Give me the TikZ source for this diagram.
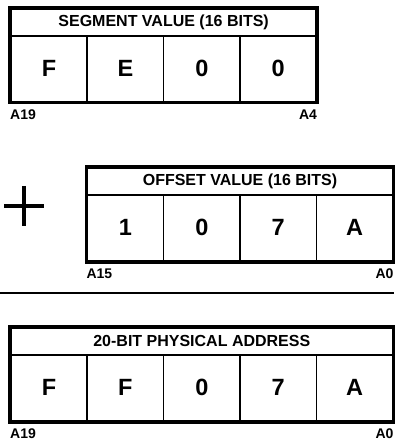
\documentclass[tikz,border=0pt]{standalone}
\usepackage{fontspec}
\setmainfont{Liberation Sans}
\usetikzlibrary{positioning}

\begin{document}
\begin{tikzpicture}[x=1pt, y=-1pt,
  hdr/.style={draw, line width=1.6pt, minimum height=27pt, inner sep=0pt, font=\fontsize{16}{16}\selectfont\bfseries},
  cell/.style={draw, line width=1.6pt, minimum width=76.4pt, minimum height=66pt, inner sep=0pt, font=\fontsize{23.5}{23.5}\selectfont\bfseries},
  frame/.style={line width=3.8pt},
  pin/.style={inner sep=0pt, font=\fontsize{14}{14}\selectfont\bfseries},
  plusbar/.style={line width=4.6pt}
]
\useasboundingbox (0,0) rectangle (394,443);

% Segment value
\node[hdr, minimum width=305.6pt, anchor=north west] (seghead) at (10,8) {SEGMENT VALUE (16 BITS)};
\foreach \v [count=\i] in {F,E,0,0}
  \node[cell, anchor=north west] (seg\i) at ({10+76.4*(\i-1)},35) {\v};
\draw[frame] (seghead.north west) rectangle (seg4.south east);
\node[pin, below right=7pt and 0pt of seg1.south west] (segmsb) {A19};
\node[pin, below left=7pt and 0pt of seg4.south east] (seglsb) {A4};

% Offset value, shifted one digit
\draw[plusbar] (4,206) -- (44,206);
\draw[plusbar] (24,186) -- (24,226);
\node[hdr, minimum width=305.6pt, anchor=north west] (offhead) at (86.4,167) {OFFSET VALUE (16 BITS)};
\foreach \v [count=\i] in {1,0,7,A}
  \node[cell, anchor=north west] (off\i) at ({86.4+76.4*(\i-1)},194) {\v};
\draw[frame] (offhead.north west) rectangle (off4.south east);
\node[pin, below right=7pt and 0pt of off1.south west] (offmsb) {A15};
\node[pin, below left=7pt and 0pt of off4.south east] (offlsb) {A0};

% Sum line
\draw[line width=1.8pt] (0,293) -- (394,293);

% Physical address
\node[hdr, minimum width=382pt, anchor=north west] (physhead) at (10,327) {20-BIT PHYSICAL ADDRESS};
\foreach \v [count=\i] in {F,F,0,7,A}
  \node[cell, anchor=north west] (phys\i) at ({10+76.4*(\i-1)},354) {\v};
\draw[frame] (physhead.north west) rectangle (phys5.south east);
\node[pin, below right=7pt and 0pt of phys1.south west] (physmsb) {A19};
\node[pin, below left=7pt and 0pt of phys5.south east] (physlsb) {A0};
\end{tikzpicture}
\end{document}
